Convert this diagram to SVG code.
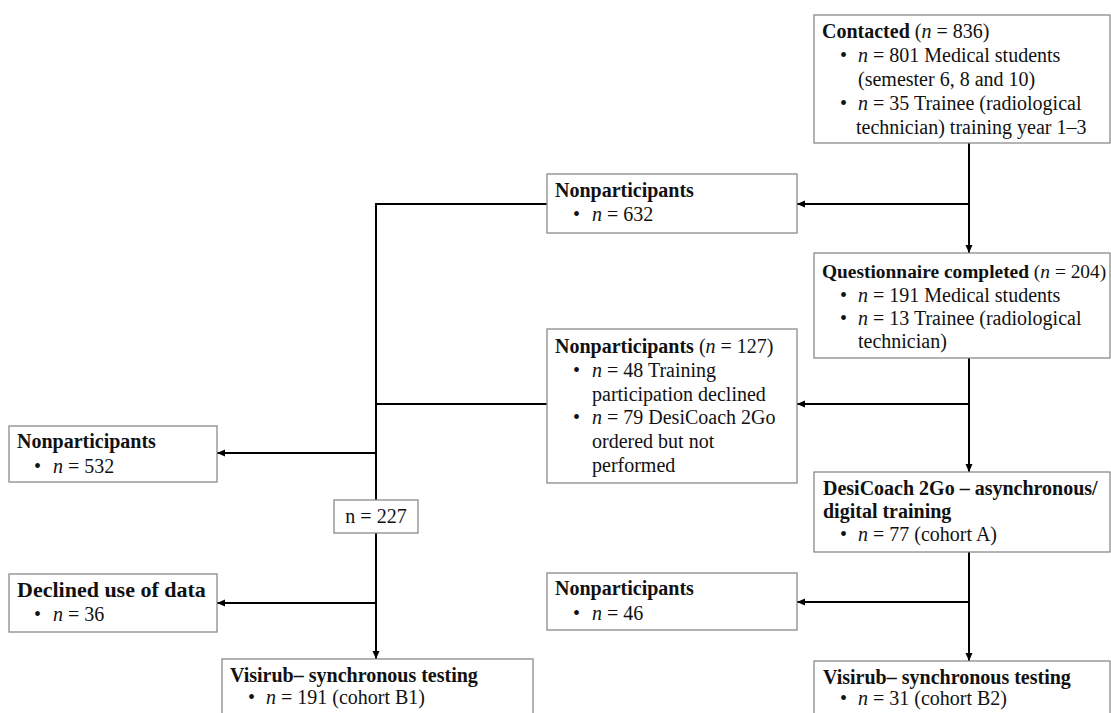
<svg xmlns="http://www.w3.org/2000/svg" width="1111" height="713" viewBox="0 0 1111 713">
<style>
.box{fill:#fff;stroke:#8a8a8a;stroke-width:1.3}
.t{font-family:"Liberation Serif","Times New Roman",serif;font-size:20px;fill:#111}
.b{font-weight:bold}
.i{font-style:italic}
.ln{fill:none;stroke:#000;stroke-width:2}
</style>
<defs>
<marker id="ah" markerUnits="userSpaceOnUse" markerWidth="9" markerHeight="8" refX="8" refY="3.5" orient="auto">
<path d="M0,0 L8,3.5 L0,7 z" fill="#000"/>
</marker>
</defs>
<rect width="1111" height="713" fill="#fff"/>
<g id="connectors">
<line class="ln" x1="969" y1="143" x2="969" y2="253" marker-end="url(#ah)"/>
<line class="ln" x1="969" y1="204" x2="797" y2="204" marker-end="url(#ah)"/>
<line class="ln" x1="969" y1="358" x2="969" y2="472" marker-end="url(#ah)"/>
<line class="ln" x1="969" y1="404" x2="797" y2="404" marker-end="url(#ah)"/>
<line class="ln" x1="969" y1="552" x2="969" y2="661" marker-end="url(#ah)"/>
<line class="ln" x1="969" y1="602" x2="797" y2="602" marker-end="url(#ah)"/>
<line class="ln" x1="547" y1="204" x2="375" y2="204"/>
<line class="ln" x1="547" y1="404" x2="375" y2="404"/>
<line class="ln" x1="376" y1="203" x2="376" y2="659" marker-end="url(#ah)"/>
<line class="ln" x1="376" y1="453" x2="217" y2="453" marker-end="url(#ah)"/>
<line class="ln" x1="376" y1="603" x2="217" y2="603" marker-end="url(#ah)"/>
</g>
<g id="contacted">
<rect class="box" x="814" y="15" width="296" height="128"/>
<text class="t" x="822" y="38"><tspan class="b">Contacted</tspan> (<tspan class="i">n</tspan> = 836)</text>
<text class="t" x="840" y="62">•</text>
<text class="t" x="858" y="62"><tspan class="i">n</tspan> = 801 Medical students</text>
<text class="t" x="858" y="86">(semester 6, 8 and 10)</text>
<text class="t" x="840" y="110">•</text>
<text class="t" x="858" y="110"><tspan class="i">n</tspan> = 35 Trainee (radiological</text>
<text class="t" x="856" y="134">technician) training year 1–3</text>
</g>
<g id="nonpart632">
<rect class="box" x="547" y="174" width="250" height="59"/>
<text class="t b" x="555" y="197">Nonparticipants</text>
<text class="t" x="573" y="221">•</text>
<text class="t" x="592" y="221"><tspan class="i">n</tspan> = 632</text>
</g>
<g id="questionnaire">
<rect class="box" x="814" y="253" width="296" height="105"/>
<text class="t" x="822" y="278" style="font-size:19.4px"><tspan class="b">Questionnaire completed</tspan> (<tspan class="i">n</tspan> = 204)</text>
<text class="t" x="840" y="302">•</text>
<text class="t" x="858" y="302"><tspan class="i">n</tspan> = 191 Medical students</text>
<text class="t" x="840" y="325">•</text>
<text class="t" x="858" y="325"><tspan class="i">n</tspan> = 13 Trainee (radiological</text>
<text class="t" x="858" y="348">technician)</text>
</g>
<g id="nonpart127">
<rect class="box" x="547" y="329" width="250" height="154"/>
<text class="t" x="555" y="353"><tspan class="b">Nonparticipants</tspan> (<tspan class="i">n</tspan> = 127)</text>
<text class="t" x="573" y="377">•</text>
<text class="t" x="592" y="377"><tspan class="i">n</tspan> = 48 Training</text>
<text class="t" x="592" y="401">participation declined</text>
<text class="t" x="573" y="424">•</text>
<text class="t" x="592" y="424"><tspan class="i">n</tspan> = 79 DesiCoach 2Go</text>
<text class="t" x="592" y="448">ordered but not</text>
<text class="t" x="592" y="472">performed</text>
</g>
<g id="nonpart532">
<rect class="box" x="9" y="426" width="208" height="56"/>
<text class="t b" x="17" y="448">Nonparticipants</text>
<text class="t" x="34" y="473">•</text>
<text class="t" x="53" y="473"><tspan class="i">n</tspan> = 532</text>
</g>
<g id="n227">
<rect class="box" x="334" y="500" width="84" height="33"/>
<text class="t" x="376" y="523" text-anchor="middle">n = 227</text>
</g>
<g id="desicoach">
<rect class="box" x="814" y="472" width="296" height="80"/>
<text class="t b" x="823" y="495">DesiCoach 2Go – asynchronous/</text>
<text class="t b" x="823" y="518">digital training</text>
<text class="t" x="840" y="541">•</text>
<text class="t" x="858" y="541"><tspan class="i">n</tspan> = 77 (cohort A)</text>
</g>
<g id="declined">
<rect class="box" x="9" y="574" width="208" height="58"/>
<text class="t b" x="17" y="597" style="font-size:22px">Declined use of data</text>
<text class="t" x="34" y="621">•</text>
<text class="t" x="53" y="621"><tspan class="i">n</tspan> = 36</text>
</g>
<g id="nonpart46">
<rect class="box" x="547" y="573" width="250" height="57"/>
<text class="t b" x="555" y="595">Nonparticipants</text>
<text class="t" x="573" y="620">•</text>
<text class="t" x="592" y="620"><tspan class="i">n</tspan> = 46</text>
</g>
<g id="visirubB1">
<rect class="box" x="222" y="659" width="311" height="70"/>
<text class="t b" x="230" y="682">Visirub– synchronous testing</text>
<text class="t" x="248" y="704">•</text>
<text class="t" x="266" y="704"><tspan class="i">n</tspan> = 191 (cohort B1)</text>
</g>
<g id="visirubB2">
<rect class="box" x="814" y="661" width="296" height="70"/>
<text class="t b" x="823" y="684">Visirub– synchronous testing</text>
<text class="t" x="840" y="705">•</text>
<text class="t" x="858" y="705"><tspan class="i">n</tspan> = 31 (cohort B2)</text>
</g>
</svg>
